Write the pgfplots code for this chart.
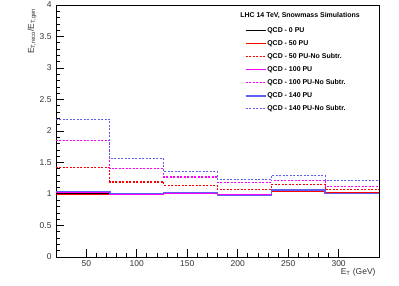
\documentclass[border=0pt]{standalone}
\usepackage{fontspec}
\setmainfont{Liberation Sans}
\usepackage{pgfplots}
\pgfplotsset{compat=1.18}
\definecolor{rblue}{RGB}{95,95,240}
\definecolor{rmag}{RGB}{255,0,255}
\definecolor{rred}{RGB}{255,0,0}
\begin{document}
\begin{tikzpicture}
\useasboundingbox (-56bp,-29bp) rectangle (343bp,257bp);
\begin{axis}[
  scale only axis, width=323bp, height=252bp,
  at={(0,0)}, anchor=south west,
  xmin=20, xmax=340, ymin=0, ymax=4,
  xtick={50,100,...,300}, ytick={0,0.5,...,4},
  minor x tick num=4, minor y tick num=4,
  tick align=inside, xtick pos=left, ytick pos=left,
  major tick length=8bp, minor tick length=4bp,
  every tick/.style={black, line width=0.7bp},
  axis line style={line width=0.7bp},
  /pgf/number format/assume math mode=true,
  ticklabel style={font=\fontsize{8.5}{9}\selectfont, text=black!80},
  yticklabel style={xshift=-1bp},
  xticklabel style={yshift=0bp},
  ylabel={E\textsubscript{T,reco}/E\textsubscript{T,gen}},
  ylabel style={at={(rel axis cs:-0.05,1)}, anchor=south east, font=\fontsize{8.5}{9}\selectfont, text=black!80},
  xlabel={E\textsubscript{T} (GeV)},
  xlabel style={at={(rel axis cs:1,0)}, anchor=north east, yshift=-8bp, font=\fontsize{8.5}{9}\selectfont, text=black!80},
  legend style={draw=none, fill=none, at={(rel axis cs:0.575,0.925)}, anchor=north west,
    font=\bfseries\fontsize{7}{8}\selectfont,
    nodes={inner sep=1pt, text height=5.2bp, text depth=1.5bp},
    row sep=4.4bp},
  legend cell align=left,
  legend image code/.code={\draw[#1] (0bp,0bp) -- (20bp,0bp);},
  const plot mark left,
  no markers,
]
\addplot[black, line width=1.4bp] coordinates {(20,1.00) (73.33,1.00) (126.67,1.01) (180,0.99) (233.33,1.06) (286.67,1.02) (340,1.02)};
\addlegendentry{QCD - 0 PU}
\addplot[rred, line width=1.4bp] coordinates {(20,0.99) (73.33,1.00) (126.67,1.01) (180,0.99) (233.33,1.05) (286.67,1.02) (340,1.02)};
\addlegendentry{QCD - 50 PU}
\addplot[rred, line width=1.1bp, dash pattern=on 2bp off 1.5bp] coordinates {(20,1.42) (73.33,1.19) (126.67,1.14) (180,1.075) (233.33,1.145) (286.67,1.065) (340,1.065)};
\addlegendentry{QCD - 50 PU-No Subtr.}
\addplot[rmag, line width=1.4bp] coordinates {(20,1.03) (73.33,1.00) (126.67,1.015) (180,0.985) (233.33,1.06) (286.67,1.01) (340,1.01)};
\addlegendentry{QCD - 100 PU}
\addplot[rmag, line width=1.1bp, dash pattern=on 2bp off 1.5bp] coordinates {(20,1.85) (73.33,1.40) (126.67,1.27) (180,1.18) (233.33,1.22) (286.67,1.12) (340,1.12)};
\addlegendentry{QCD - 100 PU-No Subtr.}
\addplot[rblue, line width=1.4bp] coordinates {(20,1.04) (73.33,1.01) (126.67,1.02) (180,0.98) (233.33,1.065) (286.67,1.005) (340,1.005)};
\addlegendentry{QCD - 140 PU}
\addplot[rblue, line width=1bp, dash pattern=on 2bp off 1.5bp] coordinates {(20,2.19) (73.33,1.56) (126.67,1.35) (180,1.235) (233.33,1.29) (286.67,1.21) (340,1.21)};
\addlegendentry{QCD - 140 PU-No Subtr.}
\node[anchor=west, inner sep=0pt, font=\bfseries\fontsize{7}{8}\selectfont] at (rel axis cs:0.57,0.96) {LHC 14 TeV, Snowmass Simulations};
\end{axis}
\end{tikzpicture}
\end{document}
